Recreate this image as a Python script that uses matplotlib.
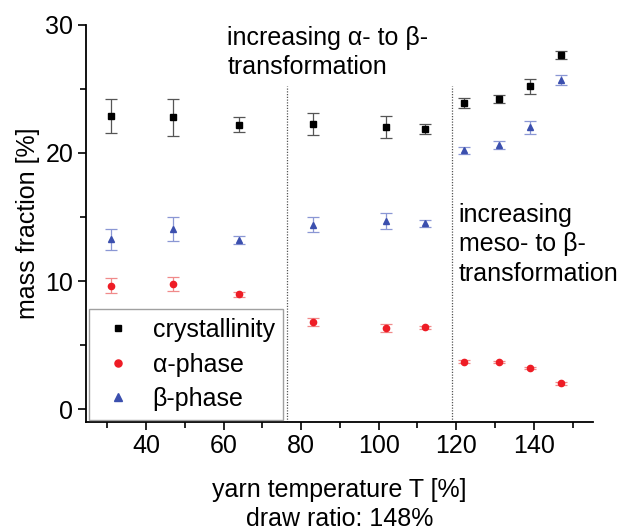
import matplotlib
matplotlib.use("Agg")
import matplotlib.pyplot as plt
from matplotlib.lines import Line2D

plt.rcParams['font.family'] = ['Liberation Sans', 'DejaVu Sans']

# yarn temperature settings
temperature = [31, 47, 64, 83, 102, 112, 122, 131, 139, 147]

crystallinity = [22.9, 22.8, 22.2, 22.25, 22.05, 21.85, 23.9, 24.2, 25.2, 27.65]
crystallinity_err = [1.35, 1.45, 0.6, 0.87, 0.85, 0.4, 0.4, 0.3, 0.6, 0.3]

alpha_phase = [9.63, 9.74, 8.96, 6.82, 6.35, 6.38, 3.7, 3.67, 3.2, 2.0]
alpha_err = [0.6, 0.55, 0.2, 0.3, 0.3, 0.1, 0.1, 0.1, 0.1, 0.1]

beta_phase = [13.26, 14.05, 13.2, 14.4, 14.7, 14.5, 20.2, 20.6, 22.0, 25.7]
beta_err = [0.8, 0.93, 0.3, 0.6, 0.6, 0.3, 0.3, 0.3, 0.5, 0.4]

region_bounds = [76.3, 118.9]

FS = 18

fig = plt.figure(figsize=(6.22, 5.30), dpi=100)
ax = fig.add_axes([0.138, 0.204, 0.815, 0.749])

series = [
    (crystallinity, crystallinity_err, 's', 'black', '#555555', 4.2, 'crystallinity'),
    (alpha_phase, alpha_err, 'o', '#ee1c25', '#f08a8a', 4.5, 'α-phase'),
    (beta_phase, beta_err, '^', '#3b4fae', '#8a97d4', 5.0, 'β-phase'),
]

handles = []
for vals, errs, mk, col, ecol, ms, name in series:
    ax.errorbar(temperature, vals, yerr=errs, fmt=mk, color=col, ms=ms,
                ecolor=ecol, elinewidth=0.9, capsize=4, capthick=0.9,
                zorder=3)
    handles.append(Line2D([], [], linestyle='none', marker=mk, color=col,
                          markersize=ms + 0.6, label=name))

for xb in region_bounds:
    ax.plot([xb, xb], [-1, 25.2], linestyle=(0, (1, 1.2)), color='#555555',
            linewidth=0.9, zorder=1)

ax.set_xlim(24.5, 155.2)
ax.set_ylim(-1, 30)
ax.set_xticks([40, 60, 80, 100, 120, 140])
ax.set_xticks([30, 50, 70, 90, 110, 130, 150], minor=True)
ax.set_yticks([0, 10, 20, 30])
ax.set_yticks([5, 15, 25], minor=True)

for side in ['top', 'right']:
    ax.spines[side].set_visible(False)
for side in ['left', 'bottom']:
    ax.spines[side].set_linewidth(1.3)

ax.tick_params(which='major', direction='out', length=6, width=1.2,
               labelsize=FS, pad=3)
ax.tick_params(which='minor', direction='out', length=4, width=1.2)

ax.set_ylabel('mass fraction [%]', fontsize=FS, labelpad=4)
ax.set_xlabel('yarn temperature T [%]\ndraw ratio: 148%', fontsize=FS,
              labelpad=14, linespacing=1.25)

ax.text(61.0, 29.9, 'increasing α- to β-\ntransformation', fontsize=FS,
        ha='left', va='top', linespacing=1.25)
ax.text(120.6, 16.1, 'increasing\nmeso- to β-\ntransformation', fontsize=FS,
        ha='left', va='top', linespacing=1.28, clip_on=False)

leg = ax.legend(handles=handles, loc='lower left',
                bbox_to_anchor=(0.006, 0.005), fontsize=FS,
                frameon=True, fancybox=False, edgecolor='#888888',
                handletextpad=0.6, labelspacing=0.42, borderpad=0.35,
                handlelength=1.6, borderaxespad=0.0)
leg.get_frame().set_linewidth(1.0)

fig.savefig('out.png', dpi=100)
